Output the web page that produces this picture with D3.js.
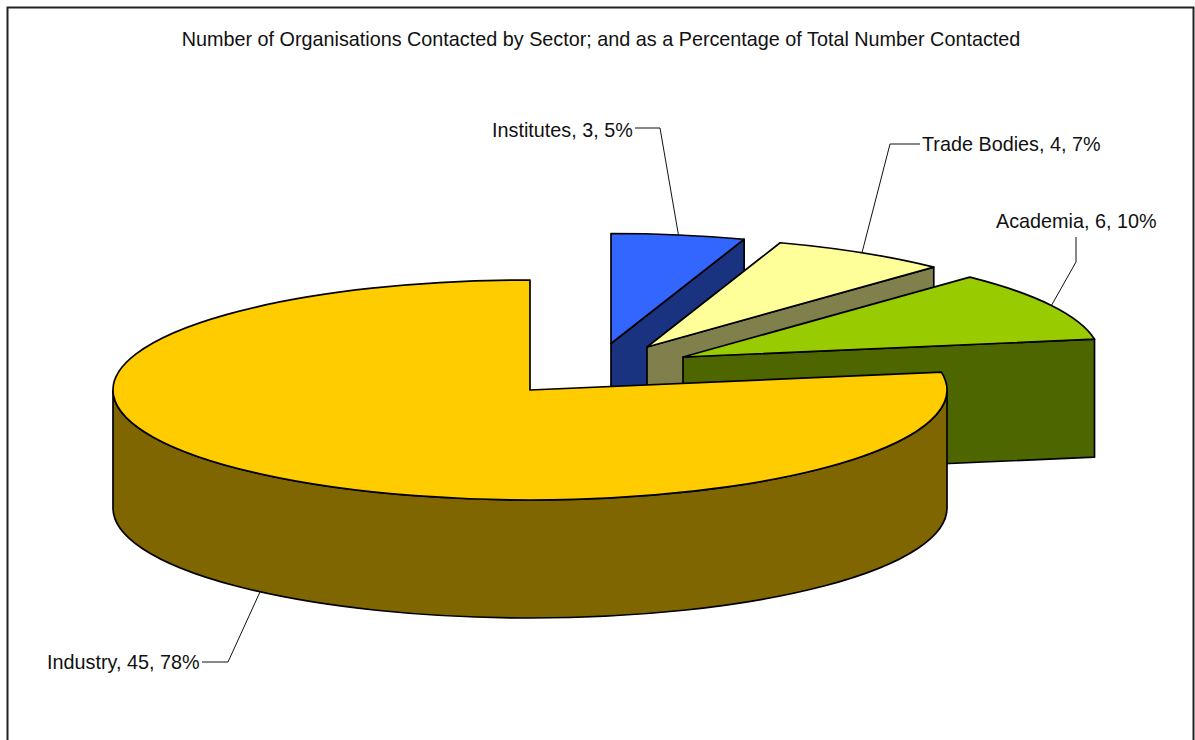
<!DOCTYPE html>
<html>
<head>
<meta charset="utf-8">
<script src="https://cdn.jsdelivr.net/npm/d3@7"></script>
<style>
  html, body { margin: 0; padding: 0; background: #fff; overflow: hidden; }
  text { font-family: "Liberation Sans", Arial, sans-serif; fill: #111; }
</style>
</head>
<body>
<div id="chart"></div>
<script>
const chartTitle = "Number of Organisations Contacted by Sector; and as a Percentage of Total Number Contacted"
const sectors = ["Institutes", "Trade Bodies", "Academia", "Industry"]
const contacted = [3, 4, 6, 45]
const topColors = ["#3366FF", "#FFFF99", "#99CC00", "#FFCC00"]
const sideColors = ["#1A3380", "#80804D", "#4D6600", "#806600"]

const width = 1195
const height = 740
const rx = 417
const ry = 110
const depth = 118
const fontSize = 19.8
const edgeWidth = 1.7

// exploded slice apexes, and where each label and its leader sit
const apexes = [[611, 343.5], [647, 347], [683, 357], [530, 390]]
const labelPos = [[492, 137], [922, 151], [996, 228], [47, 669]]
const leaderElbows = [
  [[635, 128], [660, 128]],
  [[920, 144], [890, 144]],
  [[1076, 237], [1076, 262]],
  [[202, 662], [228, 662]]
]

const total = d3.sum(contacted)
const slices = d3.pie().sort(null).value(d => d)(contacted)

const svg = d3.select("#chart").append("svg")
  .attr("viewBox", [0, 0, width, height])
  .attr("width", width)
  .attr("height", height)
  .style("display", "block")

svg.append("path")
  .attr("d", `M7.5,${height}V7.5H1193.5V${height}`)
  .attr("fill", "none")
  .attr("stroke", "#222")
  .attr("stroke-width", 2)

svg.append("text")
  .attr("x", 601)
  .attr("y", 46)
  .attr("text-anchor", "middle")
  .attr("font-size", fontSize)
  .text(chartTitle)

// point on the rim of slice i at angle a, clockwise from 12 o'clock
function rim(i, a, drop = 0) {
  return [apexes[i][0] + rx * Math.sin(a), apexes[i][1] - ry * Math.cos(a) + drop]
}

const arc = d3.arc().innerRadius(0).outerRadius(rx)

const pie = svg.append("g").classed("pie", true)

slices.forEach((s, i) => {
  const g = pie.append("g").classed("slice", true)
  const [ax, ay] = apexes[i]

  // cut face on the clockwise end of the slice, only seen on the right half
  if (s.endAngle < Math.PI) {
    const e = rim(i, s.endAngle)
    g.append("path")
      .attr("d", d3.line()([[ax, ay], e, [e[0], e[1] + depth], [ax, ay + depth]]) + "Z")
      .attr("fill", sideColors[i])
      .attr("stroke", "#000")
      .attr("stroke-width", edgeWidth)
      .attr("stroke-linejoin", "round")
  }

  // outer wall for the front part of the rim
  const a0 = Math.max(s.startAngle, Math.PI / 2)
  const a1 = Math.min(s.endAngle, Math.PI * 1.5)
  if (a0 < a1) {
    const p0 = rim(i, a0), p1 = rim(i, a1)
    const large = a1 - a0 > Math.PI ? 1 : 0
    g.append("path")
      .attr("d", `M${p0}A${rx},${ry} 0 ${large} 1 ${p1}V${p1[1] + depth}A${rx},${ry} 0 ${large} 0 ${p0[0]},${p0[1] + depth}Z`)
      .attr("fill", sideColors[i])
      .attr("stroke", "#000")
      .attr("stroke-width", edgeWidth)
  }

  // top face, a flat arc squashed into the ellipse
  g.append("path")
    .attr("transform", `translate(${ax},${ay}) scale(1,${ry / rx})`)
    .attr("d", arc(s))
    .attr("fill", topColors[i])
    .attr("stroke", "#000")
    .attr("stroke-width", edgeWidth)
    .attr("stroke-linejoin", "round")
    .attr("vector-effect", "non-scaling-stroke")
})

// leaders run from the middle of each slice's visible rim
const leaders = svg.append("g").classed("leaders", true)
slices.forEach((s, i) => {
  const mid = (s.startAngle + s.endAngle) / 2
  const front = Math.cos(mid) < 0
  leaders.append("path")
    .attr("d", d3.line()([...leaderElbows[i], rim(i, mid, front ? depth : 0)]))
    .attr("fill", "none")
    .attr("stroke", "#111")
    .attr("stroke-width", 1)
})

svg.append("g").classed("labels", true)
  .selectAll("text")
  .data(sectors)
  .join("text")
  .attr("x", (d, i) => labelPos[i][0])
  .attr("y", (d, i) => labelPos[i][1])
  .attr("font-size", fontSize)
  .text((d, i) => `${d}, ${contacted[i]}, ${Math.round(contacted[i] / total * 100)}%`)
</script>
</body>
</html>
